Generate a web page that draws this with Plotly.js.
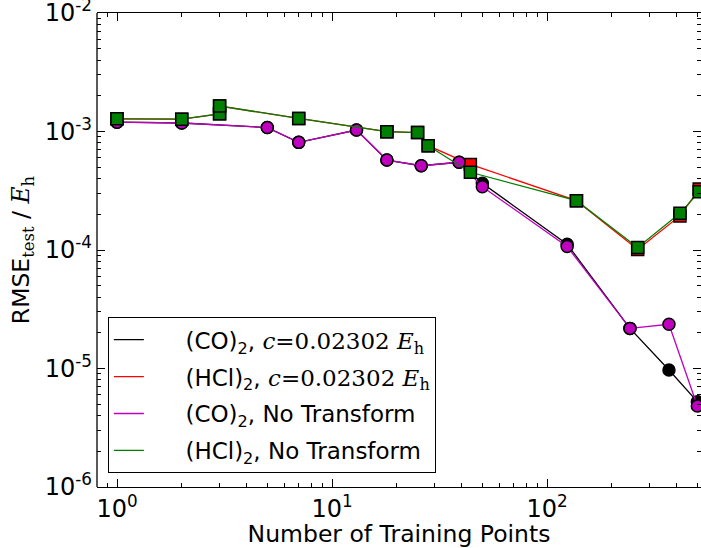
<!DOCTYPE html>
<html>
<head>
<meta charset="utf-8">
<script src="https://cdn.plot.ly/plotly-3.0.1.min.js"></script>
<style>html,body{margin:0;padding:0;background:#fff;}</style>
</head>
<body>
<div id="chart" style="width:701px;height:548px;"></div>
<script>
// CO dimer series
const xCO = [1, 2, 5, 7, 13, 18, 26, 39, 50, 124, 243, 369, 500];
const coTransform = [1.20e-3, 1.18e-3, 1.08e-3, 8.1e-4, 1.03e-3, 5.74e-4, 5.14e-4, 5.5e-4, 3.66e-4, 1.12e-4, 2.18e-5, 9.7e-6, 5.25e-6];
const coNoTransform = [1.20e-3, 1.18e-3, 1.08e-3, 8.1e-4, 1.03e-3, 5.74e-4, 5.14e-4, 5.5e-4, 3.42e-4, 1.07e-4, 2.18e-5, 2.36e-5, 4.83e-6];
// HCl dimer series
const xHCl = [1, 2, 3, 3, 7, 18, 25, 28, 44, 137, 264, 415, 510];
const hclTransform = [1.28e-3, 1.27e-3, 1.41e-3, 1.64e-3, 1.29e-3, 9.96e-4, 9.8e-4, 7.59e-4, 5.28e-4, 2.61e-4, 1.01e-4, 1.94e-4, 3.27e-4];
const hclNoTransform = [1.28e-3, 1.27e-3, 1.41e-3, 1.64e-3, 1.29e-3, 9.96e-4, 9.8e-4, 7.59e-4, 4.53e-4, 2.61e-4, 1.05e-4, 2.04e-4, 3.1e-4];

const NB = '\u00A0';
const PAD = NB + NB + NB + NB + NB;
const names = [
  "(CO)<sub>2</sub>, <span style=\"font-family:DejaVu Serif\"><i>c</i>=0.02302 <i>E</i><sub>h</sub></span>",
  "(HCl)<sub>2</sub>, <span style=\"font-family:DejaVu Serif\"><i>c</i>=0.02302 <i>E</i><sub>h</sub></span>",
  "(CO)<sub>2</sub>, No Transform",
  "(HCl)<sub>2</sub>, No Transform"
];
const colors = ['#000000', '#ff0000', '#bf00bf', '#008000'];

const xTickVals = [1, 10, 100, 1000];
const xTickText = ["10<sup>0</sup>", "10<sup>1</sup>", "10<sup>2</sup>", "10<sup>3</sup>"];
const yTickVals = [1e-6, 1e-5, 1e-4, 1e-3, 1e-2];
const yTickText = ["10<sup>-6</sup>", "10<sup>-5</sup>", "10<sup>-4</sup>", "10<sup>-3</sup>", "10<sup>-2</sup>"];

function minorTicks(lo, hi) {
  const out = [];
  for (let e = lo; e < hi; e++) for (let m = 2; m <= 9; m++) out.push(m * Math.pow(10, e));
  return out;
}

function trace(x, y, color, symbol) {
  return {
    x: x, y: y, type: 'scatter', mode: 'lines+markers', showlegend: false,
    line: {color: color, width: 1.3},
    marker: {symbol: symbol, size: 12, color: color, line: {color: '#000', width: 1.5}}
  };
}
function legendEntry(i) {
  return {
    x: [null], y: [null], type: 'scatter', mode: 'lines', name: PAD + names[i],
    legendgroup: 'g' + i, showlegend: true,
    line: {color: colors[i], width: 1.3}
  };
}

const data = [
  trace(xCO, coTransform, colors[0], 'circle'),
  trace(xHCl, hclTransform, colors[1], 'square'),
  trace(xCO, coNoTransform, colors[2], 'circle'),
  trace(xHCl, hclNoTransform, colors[3], 'square'),
  legendEntry(0), legendEntry(1), legendEntry(2), legendEntry(3)
];

const layout = {
  width: 701, height: 548, autosize: false,
  margin: {l: 97, r: 0, t: 13, b: 61, pad: 0},
  paper_bgcolor: '#fff', plot_bgcolor: '#fff',
  font: {family: 'DejaVu Sans', size: 23, color: '#000'},
  showlegend: true,
  legend: {
    x: 0.018, y: 0.029, xanchor: 'left', yanchor: 'bottom',
    bgcolor: '#fff', bordercolor: '#000', borderwidth: 1,
    font: {family: 'DejaVu Sans', size: 23, color: '#000'},
    tracegroupgap: 4, traceorder: 'grouped', itemwidth: 30
  },
  xaxis: {
    type: 'log', range: [-0.093, 2.716],
    tickmode: 'array', tickvals: xTickVals, ticktext: xTickText,
    ticks: 'inside', ticklen: 8, tickwidth: 1, tickcolor: '#000',
    minor: {tickmode: 'array', tickvals: minorTicks(-1, 3), ticks: 'inside', ticklen: 4, tickwidth: 1, tickcolor: '#000', showgrid: false},
    showline: true, linecolor: '#000', linewidth: 1.3, mirror: 'allticks',
    showgrid: false, zeroline: false,
    ticklabeloverflow: 'allow',
    tickfont: {family: 'DejaVu Sans', size: 24, color: '#000'},
    title: {text: 'Number of Training Points', font: {family: 'DejaVu Sans', size: 23.5, color: '#000'}, standoff: 0}
  },
  yaxis: {
    type: 'log', range: [-6.0002, -1.9998],
    tickmode: 'array', tickvals: yTickVals, ticktext: yTickText,
    ticks: 'inside', ticklen: 8, tickwidth: 1, tickcolor: '#000',
    minor: {tickmode: 'array', tickvals: minorTicks(-6, -2), ticks: 'inside', ticklen: 4, tickwidth: 1, tickcolor: '#000', showgrid: false},
    showline: false, mirror: 'ticks',
    showgrid: false, zeroline: false,
    ticklabelstandoff: 4, ticklabeloverflow: 'allow',
    tickfont: {family: 'DejaVu Sans', size: 24, color: '#000'},
    title: {text: 'RMSE<sub><span style="font-family:DejaVu Serif">test</span></sub> / <span style="font-family:DejaVu Serif"><i>E</i><sub>h</sub></span>', font: {family: 'DejaVu Sans', size: 23.5, color: '#000'}, standoff: 8}
  },
  shapes: [{type: 'line', xref: 'paper', yref: 'paper', x0: 0, x1: 0, y0: 0, y1: 1, line: {color: '#000', width: 1.3}}]
};

Plotly.newPlot('chart', data, layout, {displayModeBar: false, staticPlot: true});
</script>
</body>
</html>
